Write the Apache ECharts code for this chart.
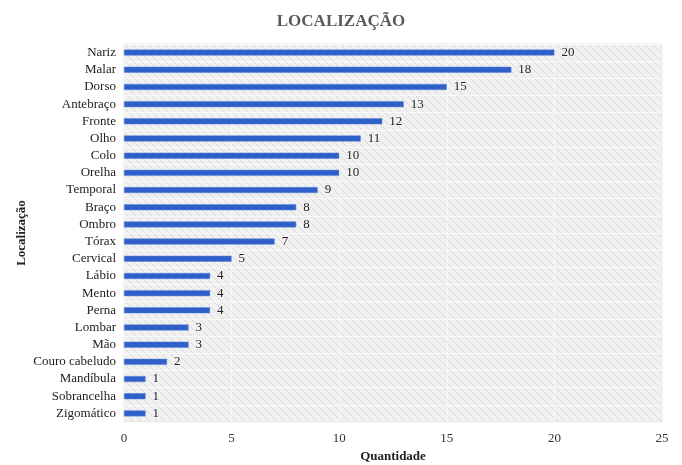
<!DOCTYPE html>
<html>
<head>
<meta charset="utf-8">
<script src="https://cdn.jsdelivr.net/npm/echarts@6/dist/echarts.min.js"></script>
<style>
html, body { margin: 0; padding: 0; background: #ffffff; }
#chart { width: 682px; height: 465px; }
</style>
</head>
<body>
<div id="chart"></div>
<script>
// Locations, listed top to bottom
const categories = ['Nariz', 'Malar', 'Dorso', 'Antebraço', 'Fronte', 'Olho', 'Colo', 'Orelha',
  'Temporal', 'Braço', 'Ombro', 'Tórax', 'Cervical', 'Lábio', 'Mento', 'Perna', 'Lombar', 'Mão',
  'Couro cabeludo', 'Mandíbula', 'Sobrancelha', 'Zigomático'];
// Number of cases per location
const quantities = [20, 18, 15, 13, 12, 11, 10, 10, 9, 8, 8, 7, 5, 4, 4, 4, 3, 3, 2, 1, 1, 1];
const xTicks = [0, 5, 10, 15, 20, 25];

const serif = '"Liberation Serif", "DejaVu Serif", serif';

// Diagonal hatch tile for the plot background
function hatchTile() {
  const c = document.createElement('canvas');
  c.width = 8; c.height = 8;
  const g = c.getContext('2d');
  g.fillStyle = '#f1f1f1';
  g.fillRect(0, 0, 8, 8);
  g.strokeStyle = '#dadada';
  g.lineWidth = 1;
  g.beginPath();
  g.moveTo(0, 0); g.lineTo(8, 8);
  g.moveTo(-4, 4); g.lineTo(4, 12);
  g.moveTo(4, -4); g.lineTo(12, 4);
  g.stroke();
  return c;
}

const chart = echarts.init(document.getElementById('chart'), null, { renderer: 'canvas' });
chart.setOption({
  animation: false,
  backgroundColor: '#ffffff',
  title: {
    text: 'LOCALIZAÇÃO',
    left: 'center',
    top: 8,
    textStyle: { fontFamily: serif, fontWeight: 'bold', fontSize: 17, color: '#595959' }
  },
  grid: {
    left: 124, right: 20, top: 44, bottom: 43,
    outerBoundsMode: 'none',
    show: true,
    backgroundColor: { image: hatchTile(), repeat: 'repeat' },
    borderColor: '#e2e2e2',
    borderWidth: 1
  },
  xAxis: {
    type: 'value',
    min: xTicks[0],
    max: xTicks[xTicks.length - 1],
    interval: 5,
    name: 'Quantidade',
    nameLocation: 'middle',
    nameGap: 28,
    nameMoveOverlap: false,
    nameTextStyle: { fontFamily: serif, fontWeight: 'bold', fontSize: 13, color: '#222' },
    axisLine: { show: false },
    axisTick: { show: false },
    axisLabel: { fontFamily: serif, fontSize: 13, color: '#333', margin: 10 },
    splitLine: { show: true, lineStyle: { color: '#f7f7f7', width: 1 } }
  },
  yAxis: {
    type: 'category',
    data: categories,
    inverse: true,
    name: 'Localização',
    nameLocation: 'middle',
    nameGap: 96,
    nameMoveOverlap: false,
    nameRotate: 90,
    nameTextStyle: { fontFamily: serif, fontWeight: 'bold', fontSize: 13, color: '#222' },
    axisLine: { show: false },
    axisTick: { show: false },
    axisLabel: { fontFamily: serif, fontSize: 13, color: '#222', margin: 8 },
    splitLine: { show: true, lineStyle: { color: '#f9f9f9', width: 1 } }
  },
  series: [{
    type: 'bar',
    data: quantities,
    barWidth: 6,
    itemStyle: { color: '#2f5fc8', borderColor: '#5a86db', borderWidth: 0.5 },
    label: {
      show: true,
      position: 'right',
      distance: 7,
      fontFamily: serif,
      fontSize: 13,
      color: '#222',
      textBorderColor: '#f4f4f4',
      textBorderWidth: 2
    }
  }]
});
</script>
</body>
</html>
